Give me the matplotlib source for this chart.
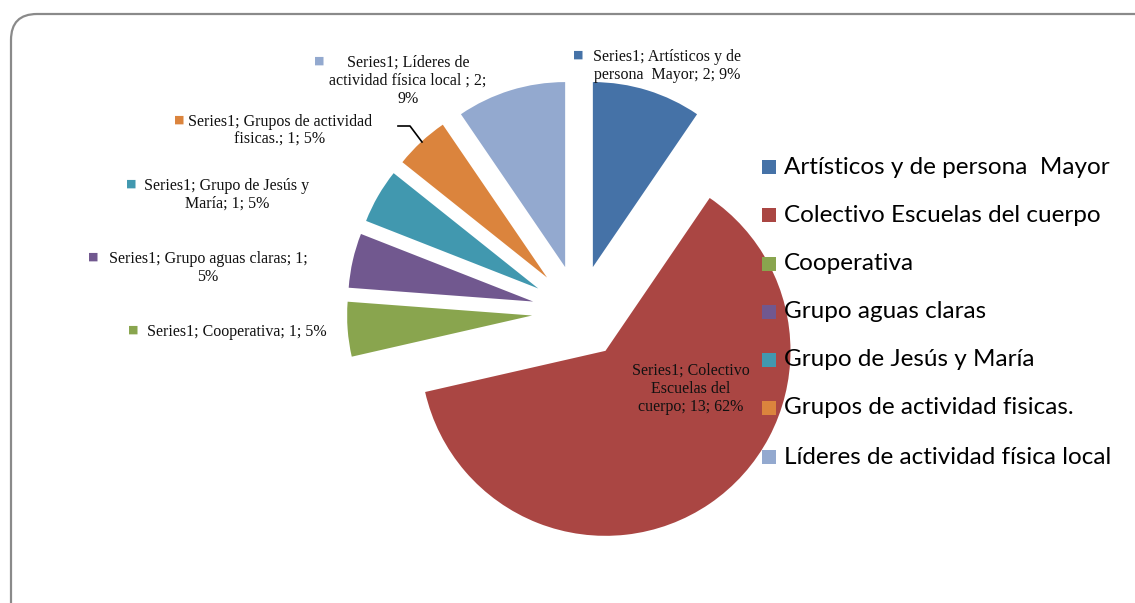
import matplotlib.pyplot as plt
from matplotlib.patches import FancyBboxPatch

# datos del grafico
categorias = ["Artísticos y de persona  Mayor", "Colectivo Escuelas del cuerpo",
              "Cooperativa", "Grupo aguas claras", "Grupo de Jesús y María",
              "Grupos de actividad fisicas.", "Líderes de actividad física local"]
valores = [2, 13, 1, 1, 1, 1, 2]
etiquetas = ["Series1; Artísticos y de\npersona  Mayor; 2; 9%",
             "Series1; Colectivo\nEscuelas del\ncuerpo; 13; 62%",
             "Series1; Cooperativa; 1; 5%",
             "Series1; Grupo aguas claras; 1;\n5%",
             "Series1; Grupo de Jesús y\nMaría; 1; 5%",
             "Series1; Grupos de actividad\nfisicas.; 1; 5%",
             "Series1; Líderes de\nactividad física local ; 2;\n9%"]
colores = ["#4572A7", "#AA4643", "#89A54E", "#71588F", "#4198AF", "#DB843D", "#93A9CF"]

W, H = 1135, 603
fig = plt.figure(figsize=(W / 100, H / 100), dpi=100)
ax = fig.add_axes([0, 0, 1, 1])

# marco redondeado
marco = FancyBboxPatch((11, -30), 1160, H - 13 + 30 - 1,
                       boxstyle="round,pad=0,rounding_size=26",
                       fc="white", ec="#8a8a8a", lw=1.6, zorder=0)
ax.add_patch(marco)

ax.pie(valores, colors=colores, startangle=90, counterclock=False,
       radius=185, center=(579, H - 312), explode=[47] * len(valores),
       frame=True, wedgeprops=dict(linewidth=0))
ax.set_xlim(0, W)
ax.set_ylim(0, H)
ax.set_aspect("equal")
ax.axis("off")

# etiquetas de datos (x centro, y primera linea, x marcador)
pos = [(667, 56, 578), (691, 370, None), (237, 331, 133), (208, 258, 93),
       (227, 185, 131), (280, 121, 179), (408, 62, 319)]
for et, (x, y, xm), c in zip(etiquetas, pos, colores):
    ax.text(x, H - y + 7, et, ha="center", va="top", fontsize=11.5,
            family="Liberation Serif", linespacing=1.15, color="#111111")
    if xm is not None:
        ax.text(xm, H - y + 1, "■", ha="center", va="center", fontsize=8, color=c)

# linea guia de "Grupos de actividad"
ax.plot([398, 410, 422], [H - 126, H - 126, H - 142], color="black", lw=1.2)

# leyenda
ley_y = [167, 215, 264, 312, 360, 408, 457]
for cat, c, y in zip(categorias, colores, ley_y):
    ax.add_patch(plt.Rectangle((762, H - y - 7), 14, 14, fc=c, ec="none"))
    ax.text(784, H - y, cat, ha="left", va="center", fontsize=17.5,
            family="Lato", color="black")

fig.savefig("out.png", dpi=100)
